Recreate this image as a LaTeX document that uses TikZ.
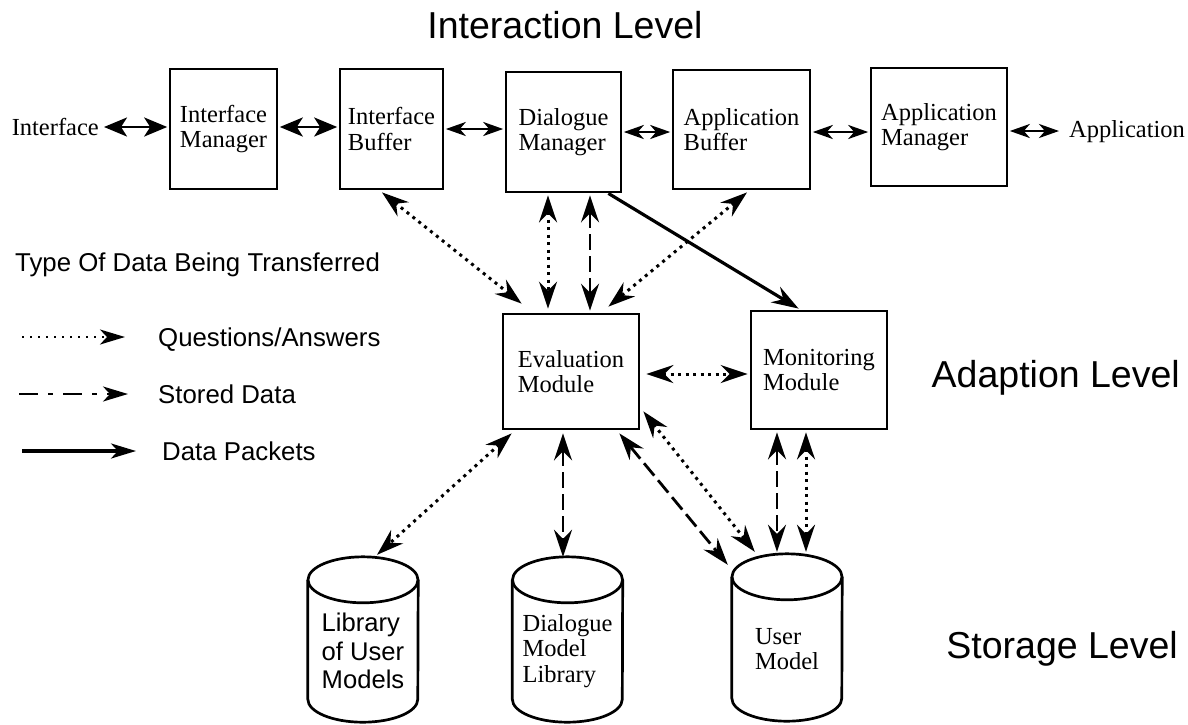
\documentclass[tikz,border=0pt]{standalone}
\usepackage{fontspec}
\setmainfont{Liberation Serif}
\setsansfont{Liberation Sans}
\usetikzlibrary{arrows.meta,calc}
\newcommand\bxfont{\fontsize{24.5}{25.5}\selectfont}
\newcommand\sfcyl{\fontsize{25.6}{28.5}\selectfont\sffamily}
\newcommand\legfont{\fontsize{25.8}{28}\selectfont\sffamily}
\newcommand\lvlfont{\fontsize{37.5}{40}\selectfont\sffamily}
\begin{document}
\begin{tikzpicture}[x=1pt,y=-1pt,
  box/.style={draw, line width=2.8pt, align=left, inner sep=0pt, font=\bxfont},
  cylbody/.style={inner sep=0pt, align=left, minimum width=110pt, minimum height=142pt},
  cyl/.style={line width=2.7pt},
  lbl/.style={inner sep=0pt, font=\bxfont},
  legtxt/.style={inner sep=0pt, font=\legfont},
  lvl/.style={inner sep=0pt, font=\lvlfont},
  bigtip/.tip={Stealth[length=23pt,width=19pt,inset=6pt]},
  thintip/.tip={Stealth[length=20pt,width=14pt,inset=6pt]},
  vtip/.tip={Stealth[length=27pt,width=18pt,inset=9pt]},
  legtip/.tip={Stealth[length=25pt,width=15pt,inset=7pt]},
  harrow/.style={line width=2.8pt},
  qa/.style={line width=3pt, dash pattern=on 3pt off 4.5pt},
  sd/.style={line width=2.8pt, dash pattern=on 16pt off 6pt},
  dp/.style={line width=3.2pt},
]
\fill[white] (0,0) rectangle (1188,724);
\useasboundingbox (0,0) rectangle (1188,724);

% titles
\node[lvl, anchor=base] (title) at (565,38) {Interaction Level};
\node[lvl, anchor=base east] (adapt) at (1180,387) {Adaption Level};
\node[lvl, anchor=base east] (store) at (1178,658) {Storage Level};

% interaction level
\node[lbl, anchor=east] (ifc) at (99,127) {Interface};
\node[box, minimum width=107pt, minimum height=120pt] (IM) at (223.5,129) {Interface\\Manager};
\node[box, minimum width=103pt, minimum height=120pt] (IB) at (391.5,129) {Interface\\Buffer};
\node[box, minimum width=115pt, minimum height=120pt] (DM) at (563.5,132) {Dialogue\\Manager};
\node[box, minimum width=137pt, minimum height=119pt] (AB) at (741.5,129.5) {Application\\Buffer};
\node[box, minimum width=136pt, minimum height=118pt] (AM) at (939,127) {Application\\Manager};
\node[lbl, anchor=base west] (app) at (1069,137) {Application};

% adaption level
\node[box, minimum width=136pt, minimum height=115pt] (EM) at (571,371.5) {Evaluation\\Module};
\node[box, minimum width=136pt, minimum height=118pt] (MM) at (819,370) {Monitoring\\Module};

% storage level
\node[cylbody, font=\sfcyl] (LUM) at (363,651) {Library\\of User\\Models};
\node[cylbody, font=\bxfont] (DML) at (567.5,651) {Dialogue\\Model\\Library};
\node[cylbody, font=\bxfont, minimum height=144pt] (UM) at (787,649) {User\\Model};
\foreach \c in {LUM,DML,UM} {
  \draw[cyl] (\c.north) ellipse [x radius=55pt, y radius=23pt];
  \draw[cyl] (\c.north west) -- ($(\c.south west)+(0,-23)$)
     arc [start angle=180, end angle=360, x radius=55pt, y radius=23pt] -- (\c.north east);
}

% legend
\node[legtxt, anchor=base west] (legt) at (15,271) {Type Of Data Being Transferred};
\coordinate (qs) at (22,337); \coordinate (qe) at (125,337);
\node[legtxt, anchor=base west] (lq) at (158,346) {Questions/Answers};
\coordinate (ss) at (19,394); \coordinate (se) at (128,394);
\node[legtxt, anchor=base west] (ls) at (158,403) {Stored Data};
\coordinate (ps) at (22,451); \coordinate (pe) at (136,451);
\node[legtxt, anchor=base west] (lp) at (162,460) {Data Packets};
\draw[line width=2.2pt, dash pattern=on 2.2pt off 5.8pt, -legtip] (qs) -- (qe);
\draw[line width=2.4pt, dash pattern=on 19pt off 10pt on 5pt off 10pt, -legtip] (ss) -- (se);
\draw[line width=3.2pt, -legtip] (ps) -- (pe);

% top horizontal connectors
\draw[harrow, bigtip-bigtip] ($(ifc.east)+(5,0)$) -- ($(IM.west |- ifc.east)+(-1.4,0)$);
\draw[harrow, bigtip-bigtip] ($(IM.east)+(1.4,-2)$) -- ($(IB.west)+(-1.4,-2)$);
\draw[harrow, thintip-thintip] ($(IB.east)+(1.4,0)$) -- ($(IB.east -| DM.west)+(-1.4,0)$);
\draw[harrow, thintip-thintip] ($(DM.east)+(1.4,0)$) -- ($(DM.east -| AB.west)+(-1.4,0)$);
\draw[harrow, thintip-thintip] ($(AB.east)+(1.4,2.5)$) -- ($(AB.east -| AM.west)+(-1.4,2.5)$);
\draw[harrow, thintip-thintip] ($(AM.east)+(1.4,4)$) -- ($(AM.east -| app.west)+(-10,4)$);

% interaction <-> adaption
\draw[qa, vtip-vtip] ($(IB.south)+(-9.5,2)$) -- ($(EM.north west)+(20,-9)$);
\draw[qa, vtip-vtip] ($(DM.south)+(-15.5,2)$) -- ($(EM.north)+(-23,-4)$);
\draw[sd, vtip-vtip] ($(DM.south)+(26.5,2)$) -- ($(EM.north)+(19,-2)$);
\draw[qa, vtip-vtip] ($(AB.south)+(5.5,2)$) -- ($(EM.north east)+(-32,-6)$);
\draw[dp, -vtip] ($(DM.south east)+(-14,0)$) -- ($(MM.north west)+(49,-1)$);
\draw[qa, vtip-vtip] ($(EM.east)+(6,2.5)$) -- ($(MM.west)+(-2,4)$);

% adaption <-> storage
\draw[qa, vtip-vtip] ($(EM.south west)+(10,3)$) -- ($(LUM.north)+(14,-25)$);
\draw[sd, vtip-vtip] ($(EM.south)+(-8,3)$) -- ($(DML.north)+(-4.5,-23)$);
\draw[sd, vtip-vtip] ($(EM.south east)+(-21,3)$) -- ($(UM.north west)+(-4,-12)$);
\draw[qa, vtip-vtip] ($(EM.south east)+(3,-19)$) -- ($(UM.north west)+(23,-25)$);
\draw[sd, vtip-vtip] ($(MM.south)+(-42,2)$) -- ($(UM.north)+(-10,-25)$);
\draw[qa, vtip-vtip] ($(MM.south)+(-13,2)$) -- ($(UM.north)+(19,-25)$);
\end{tikzpicture}
\end{document}
